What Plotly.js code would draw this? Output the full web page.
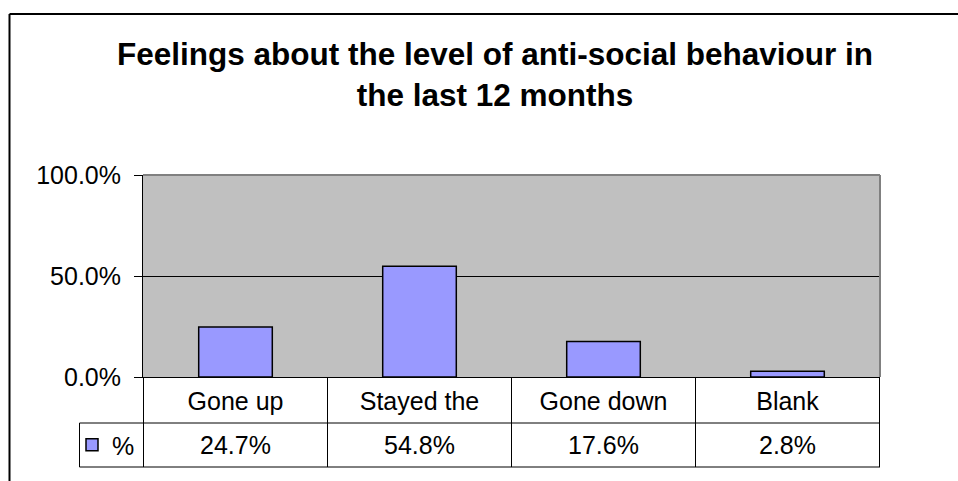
<!DOCTYPE html>
<html>
<head>
<meta charset="utf-8">
<script src="https://cdn.plot.ly/plotly-3.0.1.min.js"></script>
<style>html,body{margin:0;padding:0;background:#fff;}#chart{width:958px;height:481px;}</style>
</head>
<body>
<div id="chart"></div>
<script>
// ---- data ----
var categories = ["Gone up", "Stayed the", "Gone down", "Blank"];
var values = [0.247, 0.548, 0.176, 0.028];
var seriesName = "%";
var yTickVals = [0, 0.5, 1];
var titleText = "Feelings about the level of anti-social behaviour in<br>the last 12 months";

// ---- layout helpers ----
var W = 958, H = 481;
var M = {l: 143, r: 78, t: 175, b: 104};
var PW = W - M.l - M.r, PH = H - M.t - M.b;
function px(x) { return (x - M.l) / PW; }
function py(y) { return (H - M.b - y) / PH; }

var FONT = "Liberation Sans, Arial, Helvetica, sans-serif";
var barColor = "#9999FF";

var rowSplit = py(423), tableBottom = py(467), legendLeft = px(79.5);

var shapes = [];
// outer chart border (cut off by window at right/bottom)
shapes.push({type: "line", xref: "paper", yref: "paper", x0: px(9.5), x1: px(960), y0: py(14), y1: py(14),
  line: {color: "#000", width: 2}, layer: "above"});
shapes.push({type: "line", xref: "paper", yref: "paper", x0: px(9.5), x1: px(9.5), y0: py(14), y1: py(485),
  line: {color: "#000", width: 2}, layer: "above"});
// plot area top & right (gray)
shapes.push({type: "line", xref: "paper", yref: "paper", x0: 0, x1: 1, y0: 1, y1: 1, line: {color: "#808080", width: 2}, layer: "above"});
shapes.push({type: "line", xref: "paper", yref: "paper", x0: 1, x1: 1, y0: 0, y1: 1, line: {color: "#808080", width: 2}, layer: "above"});
// data table lines
var tl = {color: "#000", width: 1};
for (var i = 0; i <= categories.length; i++) {
  shapes.push({type: "line", xref: "x", yref: "paper", x0: i - 0.5, x1: i - 0.5, y0: tableBottom, y1: 0, line: tl});
}
shapes.push({type: "line", xref: "paper", yref: "paper", x0: legendLeft, x1: 1, y0: rowSplit, y1: rowSplit, line: tl});
shapes.push({type: "line", xref: "paper", yref: "paper", x0: legendLeft, x1: 1, y0: tableBottom, y1: tableBottom, line: tl});
shapes.push({type: "line", xref: "paper", yref: "paper", x0: legendLeft, x1: legendLeft, y0: tableBottom, y1: rowSplit, line: tl});

// value row annotations
var annotations = categories.map(function (c, i) {
  return {xref: "x", yref: "paper", x: c, y: (rowSplit + tableBottom) / 2, yanchor: "middle", xanchor: "center",
    text: (values[i] * 100).toFixed(1) + "%", showarrow: false, font: {family: FONT, size: 25, color: "#000"}};
});

var trace = {
  type: "bar", x: categories, y: values, name: seriesName,
  marker: {color: barColor, line: {color: "#000", width: 1.5}},
  hoverinfo: "x+y", showlegend: true
};

var layout = {
  width: W, height: H,
  margin: M,
  paper_bgcolor: "#fff", plot_bgcolor: "#C0C0C0",
  font: {family: FONT, color: "#000"},
  title: {text: titleText, font: {family: FONT, size: 31.5, weight: "bold", color: "#000"},
    xref: "container", x: 495 / W, xanchor: "center", yref: "container", y: 1 - 65 / H, yanchor: "top"},
  bargap: 0.6,
  xaxis: {type: "category", showgrid: false, ticks: "", showline: true, linecolor: "#000", linewidth: 1,
    tickfont: {family: FONT, size: 25, color: "#000"}, ticklabelstandoff: 2, zeroline: false, fixedrange: true},
  yaxis: {range: [0, 1], tickvals: yTickVals, tickformat: ".1%", showgrid: true, gridcolor: "#000", gridwidth: 1,
    ticks: "outside", ticklen: 8, tickcolor: "#000", tickwidth: 1, showline: true, linecolor: "#000", linewidth: 1,
    zeroline: false, tickfont: {family: FONT, size: 25, color: "#000"}, ticklabelstandoff: 8, fixedrange: true},
  showlegend: true,
  legend: {x: px(72), xanchor: "left", y: (rowSplit + tableBottom) / 2, yanchor: "middle", bgcolor: "rgba(0,0,0,0)",
    font: {family: FONT, size: 25, color: "#000"}, itemwidth: 30},
  shapes: shapes,
  annotations: annotations
};

Plotly.newPlot("chart", [trace], layout, {displayModeBar: false, staticPlot: true});
</script>
</body>
</html>
